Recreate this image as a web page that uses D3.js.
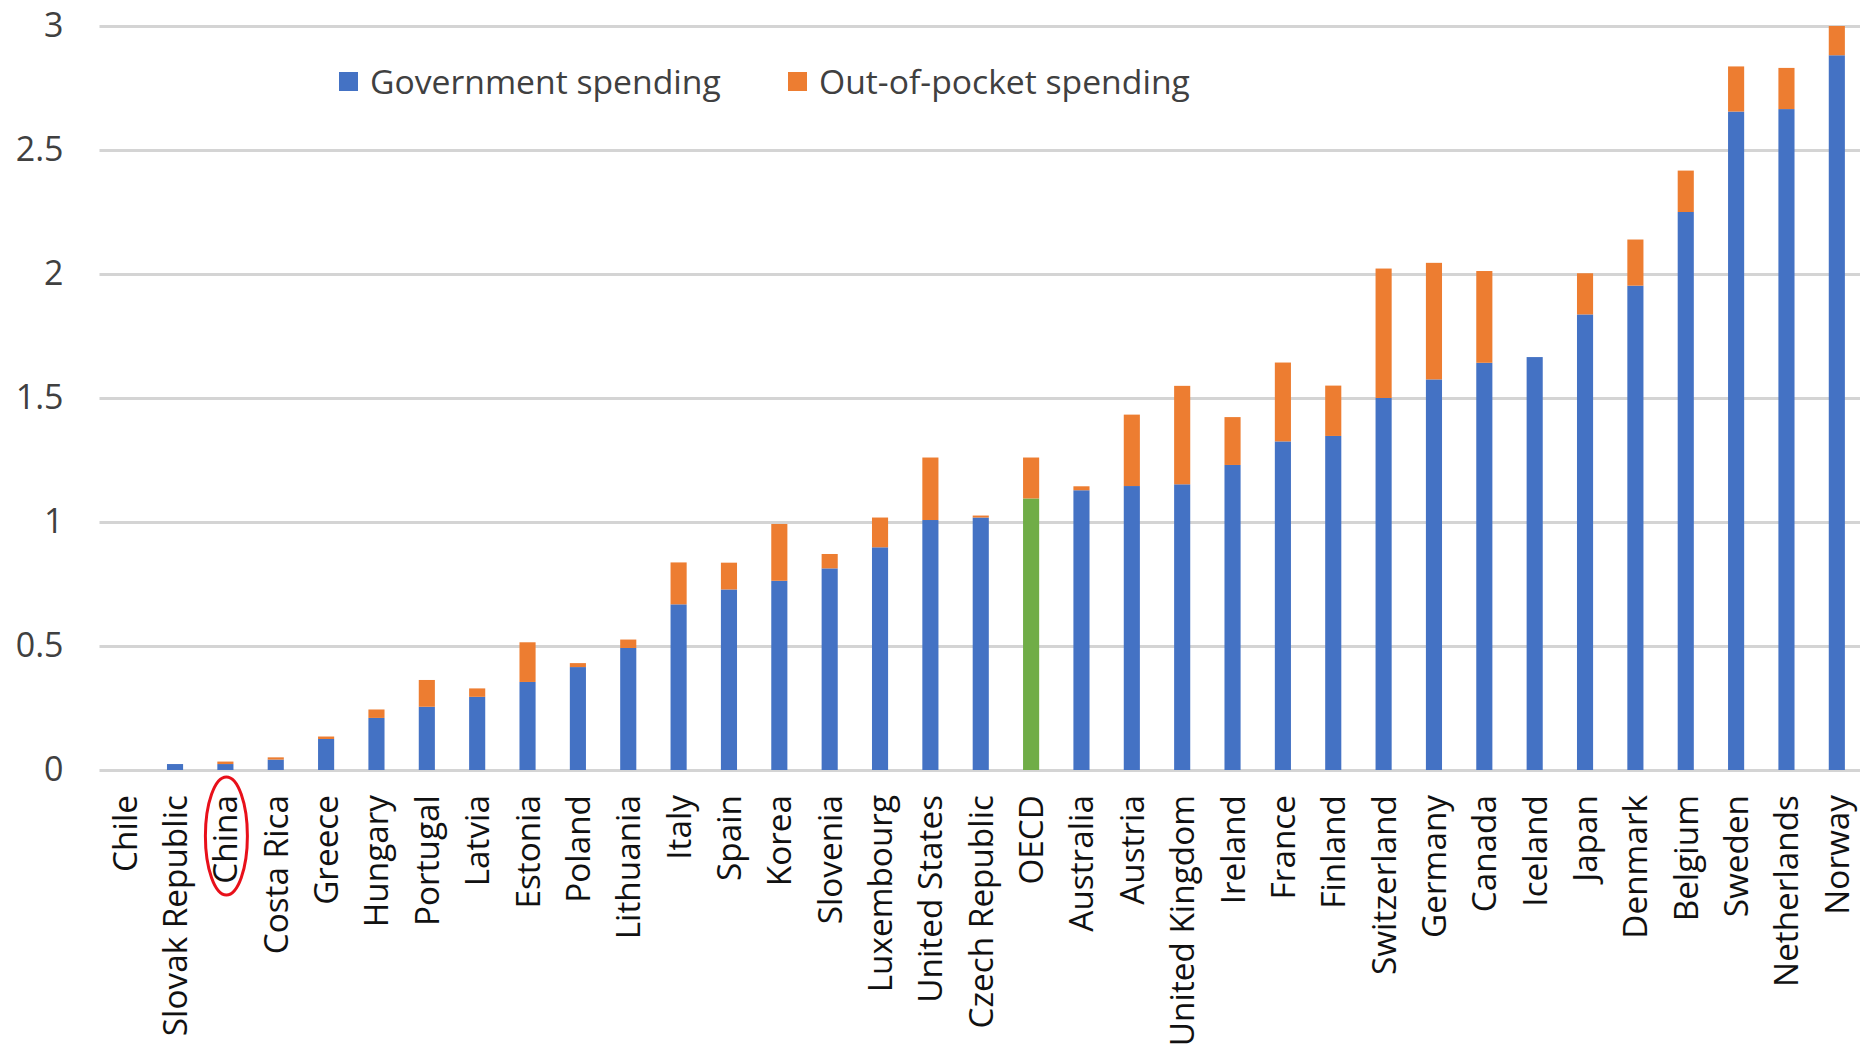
<!DOCTYPE html>
<html>
<head>
<meta charset="utf-8">
<script src="https://d3js.org/d3.v7.min.js"></script>
<style>
  body { margin: 0; background: #fff; }
  svg { display: block; }
</style>
</head>
<body>
<div id="chart"></div>
<script>
// Data
const countries = ["Chile", "Slovak Republic", "China", "Costa Rica", "Greece", "Hungary", "Portugal",
    "Latvia", "Estonia", "Poland", "Lithuania", "Italy", "Spain", "Korea", "Slovenia", "Luxembourg",
    "United States", "Czech Republic", "OECD", "Australia", "Austria", "United Kingdom", "Ireland",
    "France", "Finland", "Switzerland", "Germany", "Canada", "Iceland", "Japan", "Denmark", "Belgium",
    "Sweden", "Netherlands", "Norway"];
const government = [0, 0.024, 0.024, 0.042, 0.125, 0.21, 0.255, 0.295, 0.355, 0.415, 0.492, 0.668,
    0.728, 0.763, 0.813, 0.898, 1.008, 1.018, 1.095, 1.128, 1.145, 1.152, 1.23, 1.325, 1.347,
    1.5, 1.575, 1.642, 1.665, 1.837, 1.953, 2.25, 2.655, 2.665, 2.882];
const outOfPocket = [0, 0, 0.01, 0.009, 0.01, 0.034, 0.108, 0.034, 0.16, 0.016, 0.034, 0.169,
    0.108, 0.229, 0.058, 0.12, 0.252, 0.008, 0.165, 0.016, 0.288, 0.397, 0.193, 0.318, 0.203,
    0.522, 0.47, 0.37, 0, 0.166, 0.186, 0.167, 0.182, 0.166, 0.118];
const yTicks = [0, 0.5, 1, 1.5, 2, 2.5, 3];
const seriesNames = ["Government spending", "Out-of-pocket spending"];
const highlight = "OECD";
const circled = "China";

const colors = { gov: "#4472C4", oop: "#ED7D31", highlight: "#70AD47" };

const W = 1860, H = 1047;
const margin = { top: 26, left: 99.5, bottom: 277 };
const plotRight = 1862;

const data = countries.map((c, i) => ({ name: c, gov: government[i], oop: outOfPocket[i] }));

const svg = d3.select("#chart")
    .append("svg")
    .attr("width", W)
    .attr("height", H);

const x = d3.scaleBand()
    .domain(countries)
    .range([margin.left, plotRight])
    .paddingInner(0.68)
    .paddingOuter(0.34);

const y = d3.scaleLinear()
    .domain([0, 3])
    .range([H - margin.bottom, margin.top]);

// gridlines + y tick labels
const yAxis = svg.append("g")
    .attr("transform", `translate(${margin.left},0)`)
    .call(d3.axisLeft(y).tickValues(yTicks).tickSize(-(W - margin.left)).tickPadding(36)
        .tickFormat(d => d3.format("")(d)));
yAxis.select(".domain").remove();
yAxis.selectAll(".tick line")
    .attr("stroke", "#d4d4d4")
    .attr("stroke-width", 3);
yAxis.selectAll(".tick text")
    .attr("fill", "#404040")
    .style("font-family", "'Open Sans', sans-serif")
    .style("font-size", "34px");

// stacked bars
const stack = d3.stack().keys(["gov", "oop"]);
const layers = stack(data);

svg.append("g")
    .selectAll("g")
    .data(layers)
    .enter()
    .append("g")
    .attr("data-key", d => d.key)
    .selectAll("rect")
    .data(d => d.map(p => ({ p, key: d.key })))
    .enter()
    .append("rect")
    .attr("x", d => x(d.p.data.name))
    .attr("width", x.bandwidth())
    .attr("y", d => y(d.p[1]))
    .attr("height", d => Math.max(0, y(d.p[0]) - y(d.p[1])))
    .attr("fill", d => d.key === "oop" ? colors.oop
        : (d.p.data.name === highlight ? colors.highlight : colors.gov));

// category labels, rotated
const xAxis = svg.append("g")
    .attr("transform", `translate(0,${y(0)})`)
    .call(d3.axisBottom(x).tickSize(0).tickPadding(0));
xAxis.select(".domain").remove();
xAxis.selectAll(".tick text")
    .attr("transform", "rotate(-90)")
    .attr("x", -25)
    .attr("y", 0)
    .attr("dy", "0.36em")
    .style("text-anchor", "end")
    .attr("fill", "#111")
    .style("font-family", "'Open Sans', sans-serif")
    .style("font-size", "33.3px");

// red ellipse around China
svg.append("ellipse")
    .attr("cx", x(circled) + x.bandwidth() / 2 + 1)
    .attr("cy", y(0) + 66)
    .attr("rx", 21)
    .attr("ry", 59)
    .attr("fill", "none")
    .attr("stroke", "#e8101a")
    .attr("stroke-width", 3);

// legend
const legend = svg.append("g")
    .attr("transform", "translate(339,82)");

const legendItems = [
    { name: seriesNames[0], color: colors.gov, dx: 0 },
    { name: seriesNames[1], color: colors.oop, dx: 449 }
];

const item = legend.selectAll("g")
    .data(legendItems)
    .enter()
    .append("g")
    .attr("transform", d => `translate(${d.dx},0)`);

item.append("rect")
    .attr("x", 0)
    .attr("y", -10)
    .attr("width", 19)
    .attr("height", 19)
    .attr("fill", d => d.color);

item.append("text")
    .attr("x", 31)
    .attr("y", 0)
    .attr("dy", "0.35em")
    .text(d => d.name)
    .attr("fill", "#404040")
    .style("font-family", "'Open Sans', sans-serif")
    .style("font-size", "33.7px");
</script>
</body>
</html>
